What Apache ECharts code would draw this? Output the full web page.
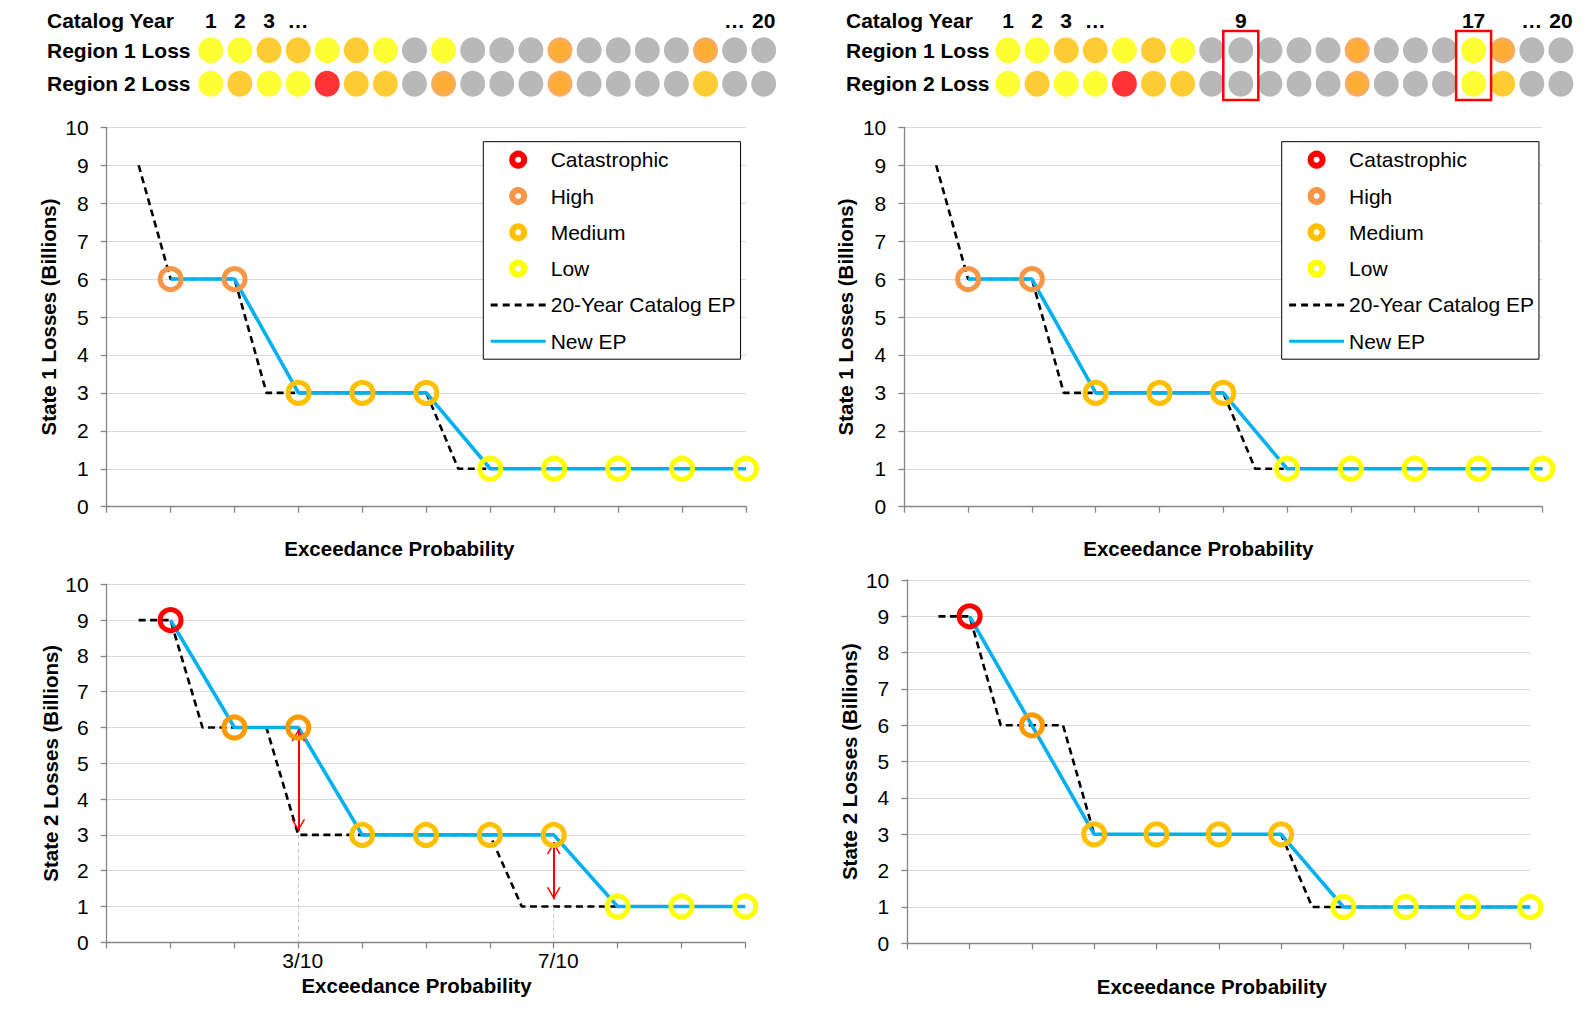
<!DOCTYPE html>
<html><head><meta charset="utf-8">
<script src="https://cdn.jsdelivr.net/npm/echarts@6/dist/echarts.min.js"></script>
<style>html,body{margin:0;padding:0;background:#fff}#c{width:1589px;height:1012px}</style>
</head><body><div id="c"></div>
<script>
// ---------------- DATA ----------------
const years = ['1','2','3','4','5','6','7','8','9','10','11','12','13','14','15','16','17','18','19','20'];
const leftYearLabels  = ['1','2','3','…','','','','','','','','','','','','','','','…','20'];
const rightYearLabels = ['1','2','3','…','','','','','9','','','','','','','','17','','…','20'];
const regionRows = ['Region 1 Loss', 'Region 2 Loss'];
// C = Catastrophic, H = High, M = Medium, L = Low, N = no loss
const region1Left  = ['L','L','M','M','L','M','L','N','L','N','N','N','H','N','N','N','N','H','N','N'];
const region2Left  = ['L','M','L','L','C','M','M','N','H','N','N','N','H','N','N','N','N','M','N','N'];
const region1Right = ['L','L','M','M','L','M','L','N','N','N','N','N','H','N','N','N','L','H','N','N'];
const region2Right = ['L','M','L','L','C','M','M','N','N','N','N','N','H','N','N','N','L','M','N','N'];
const highlightYearsRight = ['9', '17'];

const epRank = [1,2,3,4,5,6,7,8,9,10];
const state1Catalog = [[0.5,9],[1,6],[2,6],[2.5,3],[5,3],[5.5,1],[10,1]];
const state2Catalog = [[0.5,9],[1,9],[1.5,6],[2.5,6],[3,3],[6,3],[6.5,1],[10,1]];
const state1NewLeft     = [6,6,3,3,3,1,1,1,1,1];
const state1NewLeftCat  = ['H','H','M','M','M','L','L','L','L','L'];
const state1NewRight    = [6,6,3,3,3,1,1,1,1,1];
const state1NewRightCat = ['H','H','M','M','M','L','L','L','L','L'];
const state2NewLeft     = [9,6,6,3,3,3,3,1,1,1];
const state2NewLeftCat  = ['C','H','H','M','M','M','M','L','L','L'];
const state2NewRight    = [9,6,3,3,3,3,1,1,1,1];
const state2NewRightCat = ['C','H','M','M','M','M','L','L','L','L'];
const bottomLeftXLabels = {3: '3/10', 7: '7/10'};
const arrowsBL = [[[3,5.95],[3,3.1]], [[7,2.8],[7,1.2]]];
const guidesBL = [[[3,3],[3,0]], [[7,1],[7,0]]];

// ---------------- STYLE ----------------
const FONT = '"Liberation Sans", Arial, Helvetica, sans-serif';
const CAT_NAMES = {C:'Catastrophic', H:'High', M:'Medium', L:'Low'};
const CAT_ORDER = ['C','H','M','L'];
const RING = {C:'#FF0000', M:'#FFC000', L:'#FFFF00'};
const DOT = {
  C:'#FF0000', M:'#FFC000', L:'#FFFF00', N:'#A6A6A6',
  H:{type:'radial', x:0.5, y:0.5, r:0.5, colorStops:[{offset:0,color:'#FF9900'},{offset:0.55,color:'#FF9900'},{offset:1,color:'#F79646'}]}
};
const AXIS_GRAY = '#868686';
const CHEV = 'path://M7,0L7.01,0L7,0.01Z M7,12L0,24L1.7,24L7,14.9L12.3,24L14,24Z';
const FS = 21, NAME_FS = 20.5;

const panels = [
  {grid:{left:106.7, top:127.3, width:639.3, height:379.4}, catalog:state1Catalog, vals:state1NewLeft, cats:state1NewLeftCat,
   yName:'State 1 Losses (Billions)', high:'#F79646', yGap:48, xGap:31.5, xPad:54},
  {grid:{left:904.3, top:127.3, width:638, height:379.4}, catalog:state1Catalog, vals:state1NewRight, cats:state1NewRightCat,
   yName:'State 1 Losses (Billions)', high:'#F79646', yGap:48, xGap:31.5, xPad:50},
  {grid:{left:106.7, top:584.3, width:638.6, height:358}, catalog:state2Catalog, vals:state2NewLeft, cats:state2NewLeftCat,
   yName:'State 2 Losses (Billions)', high:'#FF9900', yGap:46, xGap:32.5, xPad:19, xLabels:bottomLeftXLabels, annotate:true},
  {grid:{left:907.3, top:580, width:623, height:363.3}, catalog:state2Catalog, vals:state2NewRight, cats:state2NewRightCat,
   yName:'State 2 Losses (Billions)', high:'#FF9900', yGap:47, xGap:32.5, xPad:14}
];
const dotPanels = [
  {grid:{left:196.25, top:33.55, width:582, height:67}, rows:[region1Left, region2Left], labels:leftYearLabels, labelX:47},
  {grid:{left:993.45, top:33.55, width:582, height:67}, rows:[region1Right, region2Right], labels:rightYearLabels, labelX:846}
];

const grids = [], xAxes = [], yAxes = [], catalogSeriesList = [], newSeriesList = [], markerSeriesList = [];
panels.forEach((p, i) => {
  grids.push(Object.assign({outerBoundsMode:'none', containLabel:false}, p.grid));
  xAxes.push({
    type:'value', gridIndex:i, min:0, max:10, interval:1,
    axisLine:{show:true, onZero:false, lineStyle:{color:AXIS_GRAY, width:1.3}},
    axisTick:{show:true, length:6, lineStyle:{color:AXIS_GRAY, width:1.3}},
    splitLine:{show:false},
    axisLabel: p.xLabels ? {show:true, formatter:v => p.xLabels[v] || '', fontSize:FS, color:'#000', fontFamily:FONT, margin:8, padding:[0,0,0,9]} : {show:false},
    name:'Exceedance Probability', nameLocation:'middle', nameGap:p.xGap, nameMoveOverlap:false,
    nameTextStyle:{fontSize:NAME_FS, fontWeight:'bold', color:'#000', fontFamily:FONT, padding:[0,p.xPad,0,0]}
  });
  yAxes.push({
    type:'value', gridIndex:i, min:0, max:10, interval:1,
    axisLine:{show:true, lineStyle:{color:AXIS_GRAY, width:1.3}},
    axisTick:{show:true, length:6, lineStyle:{color:AXIS_GRAY, width:1.3}},
    splitLine:{show:true, lineStyle:{color:'#D9D9D9', width:1}},
    axisLabel:{fontSize:FS, color:'#000', fontFamily:FONT, margin:18},
    name:p.yName, nameLocation:'middle', nameGap:p.yGap, nameMoveOverlap:false,
    nameTextStyle:{fontSize:NAME_FS, fontWeight:'bold', color:'#000', fontFamily:FONT}
  });
  const catalogSeries = {
    type:'line', name:'20-Year Catalog EP', xAxisIndex:i, yAxisIndex:i, data:p.catalog,
    symbol:'none', z:1, itemStyle:{color:'#000'},
    lineStyle:{color:'#000', width:2.6, type:[7,4.5]}
  };
  const newSeries = {
    type:'line', name:'New EP', xAxisIndex:i, yAxisIndex:i, data:epRank.map((x,k) => [x, p.vals[k]]),
    symbol:'none', z:4, itemStyle:{color:'#00B0F0'},
    lineStyle:{color:'#00B0F0', width:3.6}
  };
  if (p.annotate) {
    catalogSeries.markLine = {silent:true, symbol:['none','none'], label:{show:false}, animation:false,
      lineStyle:{color:'#C8C8C8', width:1, type:[4,3]},
      data: guidesBL.map(g => [{coord:g[0]}, {coord:g[1]}])};
    newSeries.markLine = {silent:true, symbol:['none','none'], label:{show:false}, animation:false,
      lineStyle:{color:'#FF0000', width:2, type:'solid'},
      data: arrowsBL.map(a => [{coord:a[0], symbol:CHEV, symbolSize:[14,24]}, {coord:a[1], symbol:CHEV, symbolSize:[14,24]}])};
  }
  catalogSeriesList.push(catalogSeries);
  newSeriesList.push(newSeries);
  CAT_ORDER.forEach(c => {
    const pts = [];
    p.cats.forEach((cc, k) => { if (cc === c) pts.push([epRank[k], p.vals[k]]); });
    if (!pts.length) return;
    markerSeriesList.push({
      type:'scatter', name:CAT_NAMES[c], xAxisIndex:i, yAxisIndex:i, data:pts, z:6,
      symbol:'circle', symbolSize:21,
      itemStyle:{color:'rgba(255,255,255,0)', borderColor: c === 'H' ? p.high : RING[c], borderWidth:5, opacity:1}
    });
  });
});

const dotSeriesList = [];
dotPanels.forEach((d, j) => {
  const gi = 4 + j;
  grids.push(Object.assign({outerBoundsMode:'none', containLabel:false}, d.grid));
  xAxes.push({
    type:'category', gridIndex:gi, data:years, position:'top', boundaryGap:true,
    axisLine:{show:false}, axisTick:{show:false}, splitLine:{show:false},
    axisLabel:{interval:0, formatter:(v, idx) => d.labels[idx], fontSize:FS, fontWeight:'bold', color:'#000', fontFamily:FONT, margin:3}
  });
  yAxes.push({
    type:'category', gridIndex:gi, data:regionRows, inverse:true,
    axisLine:{show:false}, axisTick:{show:false}, splitLine:{show:false},
    axisLabel:{align:'left', margin:d.grid.left - d.labelX, fontSize:FS, fontWeight:'bold', color:'#000', fontFamily:FONT}
  });
  const data = [];
  d.rows.forEach((row, r) => row.forEach((c, k) => data.push({value:[k, r], itemStyle:{color:DOT[c]}})));
  dotSeriesList.push({type:'scatter', name:'catalog dots ' + j, xAxisIndex:gi, yAxisIndex:gi, data, symbol:'circle', symbolSize:[25,26], silent:true, z:2});
});

function legendFor(left) {
  return {
    left, top:141.7, orient:'vertical', selectedMode:false,
    itemWidth:55, itemHeight:12, itemGap:12.3, padding:[6,5,6,7.4],
    backgroundColor:'#fff', borderColor:'#000', borderWidth:1,
    symbolKeepAspect:true,
    textStyle:{fontSize:FS, color:'#000', fontFamily:FONT, lineHeight:24},
    data:[
      {name:'Catastrophic', icon:'circle', itemStyle:{color:'#fff', borderColor:'#FF0000', borderWidth:6}},
      {name:'High', icon:'circle', itemStyle:{color:'#fff', borderColor:'#F79646', borderWidth:6}},
      {name:'Medium', icon:'circle', itemStyle:{color:'#fff', borderColor:'#FFC000', borderWidth:6}},
      {name:'Low', icon:'circle', itemStyle:{color:'#fff', borderColor:'#FFFF00', borderWidth:6}},
      {name:'20-Year Catalog EP', icon:'path://M0,0h7v3h-7zM12,0h7v3h-7zM24,0h7v3h-7zM36,0h7v3h-7zM48,0h7v3h-7z', itemStyle:{color:'#000', borderWidth:0}},
      {name:'New EP', icon:'path://M0,0h55v3h-55z', itemStyle:{color:'#00B0F0', borderWidth:0}}
    ]
  };
}

const chart = echarts.init(document.getElementById('c'), null, {renderer:'svg', width:1589, height:1012});
chart.setOption({
  animation:false,
  backgroundColor:'#fff',
  textStyle:{fontFamily:FONT},
  grid:grids, xAxis:xAxes, yAxis:yAxes,
  series:[].concat(dotSeriesList, catalogSeriesList, newSeriesList, markerSeriesList),
  legend:[legendFor(483.3), legendFor(1281.7)],
  graphic:dotPanels.map((d, j) => ({
    type:'text', id:'cy' + j, silent:true,
    style:{text:'Catalog Year', x:d.labelX, y:20, fill:'#000', fontSize:FS, fontWeight:'bold', fontFamily:FONT, verticalAlign:'middle', align:'left'}
  }))
});

// red boxes around highlighted catalog years (positions from the library's scales)
const boxes = highlightYearsRight.map((yr, n) => {
  const idx = years.indexOf(yr);
  const p0 = chart.convertToPixel({gridIndex:5}, [idx, 0]);
  const p1 = chart.convertToPixel({gridIndex:5}, [idx, 1]);
  const top = p0[1] - 19.3, bottom = p1[1] + 16.2;
  return {type:'rect', id:'box' + n, silent:true, z:10,
    shape:{x:p0[0] - 17.5, y:top, width:35, height:bottom - top},
    style:{fill:'none', stroke:'#FF0000', lineWidth:2.5}};
});
chart.setOption({graphic:boxes});
</script></body></html>
